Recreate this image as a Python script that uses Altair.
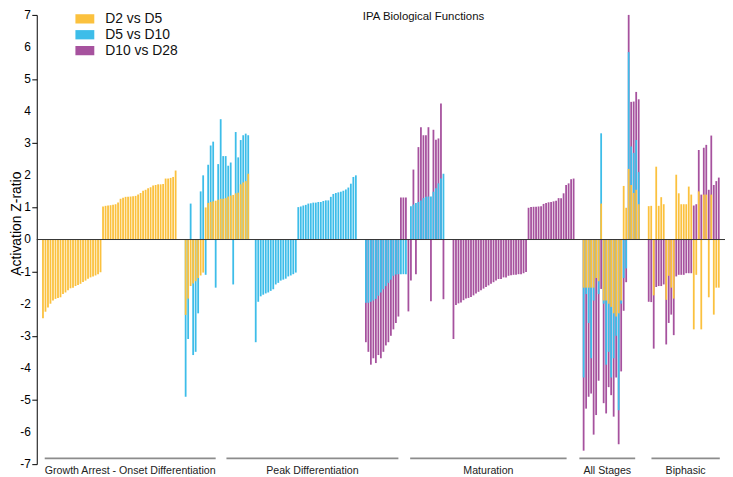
import altair as alt
import pandas as pd

SERIES = ["D2 vs D5", "D5 vs D10", "D10 vs D28"]
COLORS = ["#FBC13E", "#3DBDE9", "#A6529E"]
TITLE = "IPA Biological Functions"
FONT = "Liberation Sans"
YTICKS = [-7, -6, -5, -4, -3, -2, -1, 0, 1, 2, 3, 4, 5, 6, 7]

# ---- sections of consecutive functions (None = no value for that comparison) ----
# Growth arrest: D2 vs D5 only
ga_neg_y = [-2.45, -2.25, -2.12, -2.0, -1.9, -1.85, -1.82, -1.8, -1.7, -1.65, -1.58, -1.52,
            -1.5, -1.45, -1.42, -1.38, -1.32, -1.28, -1.22, -1.18, -1.15, -1.12, -1.08, -1.02]
ga_pos_y = [1.03, 1.05, 1.06, 1.07, 1.08, 1.1, 1.15, 1.27, 1.3, 1.33, 1.33, 1.34, 1.35, 1.36, 1.4,
            1.45, 1.52, 1.55, 1.6, 1.63, 1.68, 1.7, 1.72, 1.72, 1.73, 1.9, 1.9, 1.92, 1.95, 2.15]
# Growth arrest mixed: D2 vs D5 and D5 vs D10
gm_y = [-2.35, -1.84, -1.45, -1.37, -1.3, -1.2, -1.12, -1.03, 1.0, 1.14, 1.17, 1.19, 1.21,
        1.24, 1.27, 1.27, 1.29, 1.34, 1.37, 1.39, 1.44, 1.46, 1.72, 1.78, 1.82, 2.05]
gm_b = [-4.9, -3.1, 1.12, -3.6, -3.5, -2.3, 1.5, 2.0, -1.1, 2.33, 2.93, 3.05, -1.5, 2.35,
        3.75, 2.6, 2.6, 2.3, 2.4, -1.4, 3.35, 2.56, 3.1, 3.25, 3.3, 3.25]
# Peak differentiation: D5 vs D10
pk_neg_b = [-3.2, -1.94, -1.77, -1.72, -1.68, -1.65, -1.6, -1.55, -1.4, -1.35, -1.28, -1.25,
            -1.22, -1.15, -1.12, -1.08, -1.03]
pk_pos_b = [1.01, 1.03, 1.06, 1.08, 1.12, 1.13, 1.15, 1.15, 1.17, 1.17, 1.2, 1.22, 1.22, 1.33,
            1.42, 1.45, 1.47, 1.49, 1.52, 1.56, 1.62, 1.74, 1.95, 2.0]
# Peak / maturation mixed: D5 vs D10 and D10 vs D28
pm_b = [-1.97, -1.97, -1.94, -1.9, -1.85, -1.75, -1.65, -1.55, -1.45, -1.35, -1.25, -1.13,
        -1.09, -1.08, -1.08, -1.08, -1.08, None, 1.04, 1.09, 1.14, 1.17, 1.22, 1.29, 1.33,
        1.34, 1.34, 1.49, 1.6, 1.75, 1.9, 2.05]
pm_p = [-3.2, -3.5, -3.9, -3.7, -3.85, -3.6, -3.7, -3.5, -3.3, -3.2, -3.0, -2.8, -2.6, -2.4,
        1.31, 1.31, 1.31, -2.24, -1.28, 2.18, -1.08, 2.88, 3.5, 3.25, 3.25, 3.5, -1.92, 3.42,
        3.11, 3.15, 4.24, -1.86]
# Maturation: D10 vs D28
mt_neg_p = [-3.1, -2.04, -1.99, -1.96, -1.89, -1.84, -1.82, -1.79, -1.74, -1.68, -1.63, -1.58,
            -1.53, -1.48, -1.43, -1.38, -1.33, -1.28, -1.23, -1.23, -1.18, -1.18, -1.13, -1.11,
            -1.1, -1.1, -1.08, -1.08, -1.05, -1.01]
mt_pos_p = [0.99, 1.01, 1.02, 1.02, 1.03, 1.04, 1.11, 1.14, 1.16, 1.17, 1.19, 1.21, 1.29, 1.29,
            1.44, 1.7, 1.75, 1.88, 1.9]
# All stages: all three comparisons
al_y = [-1.5, -1.5, -1.5, -1.5, -1.5, -1.2, -1.3, 1.12, -1.9, -1.9, -2.0, -2.1, -2.3, -2.4,
        -2.3, -1.9, 1.67, 0.99, 2.2, 1.7, 1.45, 1.55, 1.1]
al_b = [-4.3, -1.7, -2.6, -3.7, -1.9, -1.2, -1.7, 3.31, -2.0, -3.9, -3.5, -4.3, -3.7, -3.0,
        -5.32, -2.0, -1.2, -0.9, 5.84, 2.9, 2.7, 3.1, 2.1]
al_p = [-6.58, -5.27, -4.9, -4.8, -6.08, -5.47, -4.4, -1.54, -5.1, -5.42, -4.6, -4.85, -5.52,
        -4.3, -6.38, -4.11, -2.22, -1.33, 7.0, 4.29, 4.3, 4.6, 4.37]
# Biphasic: D2 vs D5 and D10 vs D28
bp_y = [1.04, 1.05, -1.74, 2.27, 1.05, 1.32, 1.1, -1.88, -1.13, -1.5, -1.84, 2.02, 1.44, 1.1,
        1.1, 1.1, 1.65, 1.4, -2.8, -1.1, 1.5, -2.8, 1.4, 1.4, -1.8, 1.4, -2.34, -1.5, -1.5]
bp_p = [-1.94, -1.95, -3.4, -1.48, -1.45, -1.45, -1.4, -3.27, -2.6, -2.34, -2.98, -1.15, -1.1,
        -1.1, -1.1, -1.05, -1.05, -1.05, 1.06, 1.1, 2.79, 1.4, 2.86, 2.95, 1.55, 3.24, 1.7,
        1.82, 1.93]

# sections in order: (D2vsD5, D5vsD10, D10vsD28, empty slots after)
sections = [
    (ga_neg_y, None, None, 0),
    (ga_pos_y, None, None, 3),
    (gm_y, gm_b, None, 2),
    (None, pk_neg_b, None, 0),
    (None, pk_pos_b, None, 3),
    (None, pm_b, pm_p, 3),
    (None, None, mt_neg_p, 0),
    (None, None, mt_pos_p, 3),
    (al_y, al_b, al_p, 3),
    (bp_y, None, bp_p, 0),
]

group_names = ["Growth Arrest - Onset Differentiation", "Peak Differentiation", "Maturation",
               "All Stages", "Biphasic"]
group_start = [0.7, 73.3, 146.7, 214.3, 243.1]
group_end = [69.0, 142.0, 209.2, 236.6, 270.4]

rows = {0: [], 1: [], 2: []}
pos = 0
for sec in sections:
    lists, gap = sec[:3], sec[3]
    n = max(len(l) for l in lists if l is not None)
    for s, lst in enumerate(lists):
        if lst is None:
            continue
        for i, v in enumerate(lst):
            if v is not None:
                rows[s].append({"idx": pos + i, "z": v, "series": SERIES[s]})
    pos += n + gap
N = pos

# draw purple first, then blue, then yellow on top
df = pd.DataFrame(rows[2] + rows[1] + rows[0])

xscale = alt.Scale(domain=[-0.5, N - 0.5], nice=False, zero=False)
yscale = alt.Scale(domain=[-7, 7], nice=False)

bars = alt.Chart(df).mark_bar(size=1.8).encode(
    x=alt.X("idx:Q", scale=xscale, axis=None),
    y=alt.Y("z:Q", stack=None, scale=yscale,
            axis=alt.Axis(values=YTICKS, labels=False, title="Activation Z-ratio", grid=False,
                          domainColor="#000", tickColor="#000", tickSize=5,
                          titleFont=FONT, titleFontSize=14,
                          titleFontWeight="normal", titleColor="#000",
                          titleX=-13, titleY=210)),
    color=alt.Color("series:N", scale=alt.Scale(domain=SERIES, range=COLORS),
                    legend=alt.Legend(title=None, orient="none", legendX=40, legendY=-4.5,
                                      symbolType="M-1.12,-0.55H1.12V0.55H-1.12Z",
                                      symbolSize=289, symbolStrokeWidth=0, symbolOpacity=1,
                                      labelFontSize=14, labelFont=FONT, labelColor="#111",
                                      labelOffset=12, rowPadding=0, padding=0)),
)

# tick labels of the y axis
tdf = pd.DataFrame({"v": YTICKS, "lab": [str(v) for v in YTICKS]})
ticklabels = alt.Chart(tdf).mark_text(
    fontSize=12, font=FONT, color="#000", align="right", baseline="middle").encode(
    y=alt.Y("v:Q", scale=yscale), x=alt.value(-6), text="lab:N")

zero = alt.Chart(pd.DataFrame({"z": [0]})).mark_rule(color="#333", strokeWidth=1).encode(
    y=alt.Y("z:Q", scale=yscale))

gdf = pd.DataFrame({"name": group_names, "start": group_start, "end": group_end})
gdf["mid"] = (gdf["start"] + gdf["end"]) / 2
gdf["yb"] = -6.82
gdf["yt"] = -7.2

brackets = alt.Chart(gdf).mark_rule(color="#8c8c8c", strokeWidth=2).encode(
    x=alt.X("start:Q", scale=xscale), x2="end:Q",
    y=alt.Y("yb:Q", scale=yscale))
glabels = alt.Chart(gdf).mark_text(fontSize=10.7, font=FONT, color="#222", baseline="middle").encode(
    x=alt.X("mid:Q", scale=xscale), y=alt.Y("yt:Q", scale=yscale),
    text="name:N")

title = alt.Chart(pd.DataFrame({"t": [TITLE]})).mark_text(
    fontSize=11.5, font=FONT, color="#111", baseline="top").encode(
    text="t:N", x=alt.value(390), y=alt.value(-4))

chart = alt.layer(bars, zero, ticklabels, brackets, glabels, title).properties(
    width=694, height=453,
    autosize=alt.AutoSizeParams(type="none"),
    padding={"left": 29, "top": 5, "right": 0, "bottom": 11},
).configure_view(stroke=None)

chart.save("out.html", embed_options={"renderer": "svg", "actions": False})
